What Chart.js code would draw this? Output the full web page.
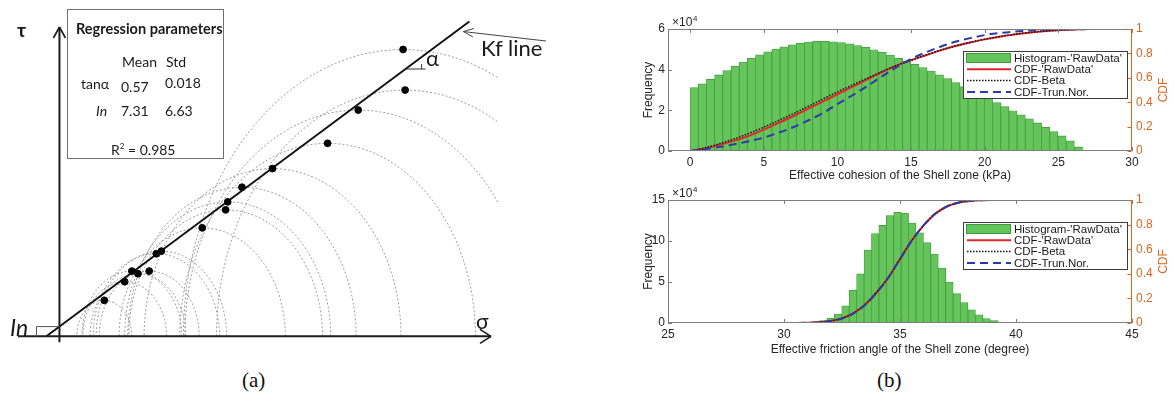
<!DOCTYPE html>
<html>
<head>
<meta charset="utf-8">
<script src="https://cdn.jsdelivr.net/npm/chart.js@4.4.1/dist/chart.umd.min.js"></script>
<style>
  body { margin: 0; width: 1174px; height: 397px; background: #fff; position: relative; overflow: hidden; }
  .box { position: absolute; }
  .lbl { position: absolute; white-space: nowrap; line-height: 1; color: #1a1a1a; font-family: Lato, "Open Sans", sans-serif; }
  #regBox { position: absolute; left: 67px; top: 9px; width: 155px; height: 148px; border: 1.5px solid #707070; background: #fff; }
  .cap { position: absolute; font-family: "Liberation Serif", "Times New Roman", serif; font-size: 21px; color: #111; }
</style>
</head>
<body>

<div class="box" style="left:0;top:0;"><canvas id="mohrChart" width="560" height="352"></canvas></div>
<div class="box" style="left:600px;top:0;"><canvas id="cohChart" width="574" height="190"></canvas></div>
<div class="box" style="left:600px;top:180px;"><canvas id="phiChart" width="574" height="182"></canvas></div>

<!-- regression box of panel (a) -->
<div id="regBox"></div>
<span class="lbl" style="left:76px;top:22px;font-size:14.5px;font-weight:bold;">Regression parameters</span>
<span class="lbl" style="left:122px;top:55px;font-size:14px;">Mean</span>
<span class="lbl" style="left:166px;top:55px;font-size:14px;">Std</span>
<span class="lbl" style="left:81px;top:77px;font-size:14px;">tanα</span>
<span class="lbl" style="left:121px;top:80px;font-size:14px;">0.57</span>
<span class="lbl" style="left:165px;top:76px;font-size:14px;">0.018</span>
<span class="lbl" style="left:96px;top:104px;font-size:14px;font-style:italic;">In</span>
<span class="lbl" style="left:121px;top:104px;font-size:14px;">7.31</span>
<span class="lbl" style="left:165px;top:104px;font-size:14px;">6.63</span>
<span class="lbl" style="left:111px;top:142px;font-size:14px;">R<sup style="font-size:8px;">2</sup> = 0.985</span>

<span class="lbl" style="left:17px;top:20px;font-size:19px;font-weight:bold;">τ</span>
<span class="lbl" style="left:476px;top:310px;font-size:21px;">σ</span>
<span class="lbl" style="left:10px;top:316px;font-size:23px;font-style:italic;">In</span>
<span class="lbl" style="left:426px;top:47px;font-size:22px;">α</span>
<span class="lbl" style="left:481px;top:37px;font-size:22px;">Kf line</span>

<span class="cap" style="left:242px;top:368px;">(a)</span>
<span class="cap" style="left:877px;top:368px;">(b)</span>

<script>
// ---------- panel (a): Mohr circles, values in kPa ----------
const circleCenter = [44, 64, 71, 77, 88, 95, 100, 140, 163, 165, 179, 209, 263, 293, 339, 337];
const circleRadius = [27, 41, 49, 47, 49, 62, 64, 81.5, 95, 101, 112, 126, 145, 170, 185, 215.5];
const tanAlpha = 0.57;
const lnMean = 7.31;
const kfSigma = [-12.8, 402];

// ---------- panel (b) top: effective cohesion ----------
const cohBinStart = 0;
const cohBinWidth = 0.555;
const cohFreq = [3.12, 3.30, 3.52, 3.74, 3.96, 4.17, 4.37, 4.56, 4.73, 4.88, 5.01, 5.12, 5.22, 5.30, 5.36, 5.40,
  5.40, 5.37, 5.33, 5.27, 5.19, 5.10, 4.98, 4.85, 4.72, 4.56, 4.42, 4.27, 4.10, 3.93, 3.75, 3.56,
  3.37, 3.17, 2.97, 2.77, 2.57, 2.38, 2.18, 1.98, 1.78, 1.58, 1.38, 1.17, 0.96, 0.74, 0.50, 0.20]; // x10^4
const cohCdfX = [0, 1, 2, 3, 4, 5, 6, 7, 8, 9, 10, 11, 12, 13, 14, 15, 16, 17, 18, 19, 20, 21, 22, 23, 24, 25, 26, 27, 28, 29, 30];
const cohCdfRaw = [0, 0.02, 0.05, 0.085, 0.125, 0.175, 0.23, 0.285, 0.345, 0.405, 0.465, 0.525, 0.585, 0.645, 0.7, 0.745,
  0.785, 0.825, 0.86, 0.89, 0.915, 0.937, 0.955, 0.97, 0.981, 0.989, 0.995, 0.999, 1, 1, 1];
const cohCdfBeta = [0, 0.025, 0.06, 0.1, 0.145, 0.195, 0.25, 0.305, 0.365, 0.425, 0.485, 0.54, 0.595, 0.65, 0.7, 0.745,
  0.787, 0.826, 0.86, 0.89, 0.916, 0.938, 0.956, 0.971, 0.982, 0.99, 0.996, 0.999, 1, 1, 1];
const cohCdfTrun = [0, 0.015, 0.033, 0.055, 0.08, 0.11, 0.15, 0.195, 0.25, 0.31, 0.385, 0.455, 0.53, 0.61, 0.685, 0.755,
  0.808, 0.855, 0.895, 0.925, 0.95, 0.967, 0.979, 0.987, 0.993, 0.996, 0.998, 0.999, 1, 1, 1];

// ---------- panel (b) bottom: effective friction angle ----------
const phiBinStart = 30.89;
const phiBinWidth = 0.32;
const phiFreq = [0.04, 0.12, 0.3, 0.6, 1.1, 2.1, 4.0, 6.0, 8.9, 10.9, 11.9, 13.1, 13.5, 13.4, 12.2, 11.0,
  9.8, 8.4, 6.7, 5.0, 3.6, 2.5, 1.6, 1.0, 0.55, 0.28, 0.12, 0.05]; // x10^4
const phiCdfX = [25, 26, 27, 28, 29, 30, 30.5, 31, 31.5, 32, 32.5, 33, 33.5, 34, 34.5, 35, 35.5, 36, 36.5, 37, 37.5,
  38, 38.5, 39, 40, 41, 42, 43, 44, 45];
const phiCdfRaw = [null, null, null, null, 0, 0, 0.0005, 0.002, 0.006, 0.016, 0.038, 0.08, 0.15, 0.25, 0.37, 0.52,
  0.67, 0.79, 0.885, 0.945, 0.977, 0.992, 0.998, 1, 1, 1, null, null, null, null];
const phiCdfBeta = [0, 0, 0, 0, 0, 0, 0.0005, 0.002, 0.006, 0.017, 0.039, 0.081, 0.152, 0.252, 0.372, 0.52,
  0.668, 0.789, 0.884, 0.944, 0.976, 0.991, 0.998, 1, 1, 1, 1, 1, 1, 1];
const phiCdfTrun = [0, 0, 0, 0, 0, 0, 0.0006, 0.002, 0.006, 0.016, 0.037, 0.079, 0.149, 0.249, 0.369, 0.518,
  0.668, 0.79, 0.886, 0.946, 0.978, 0.992, 0.998, 1, 1, 1, 1, 1, 1, 1];

const legendLabels = ["Histogram-'RawData'", "CDF-'RawData'", "CDF-Beta", "CDF-Trun.Nor."];

const ORANGE = '#d9661f';
const AXGRAY = '#7d7d7d';
const SANS = '"Liberation Sans", Arial, sans-serif';

// ================= panel (a) =================
function line(ctx, x1, y1, x2, y2) {
  ctx.beginPath(); ctx.moveTo(x1, y1); ctx.lineTo(x2, y2); ctx.stroke();
}

const mohrDecor = {
  id: 'mohrDecor',
  afterDatasetsDraw(chart) {
    const { ctx, scales: { x, y } } = chart;
    const x0 = x.getPixelForValue(0);
    const y0 = y.getPixelForValue(0);
    ctx.save();
    ctx.strokeStyle = '#1c1c1c';
    ctx.lineWidth = 2;
    // sigma axis + arrow
    line(ctx, 18, y0, 491, y0);
    ctx.lineWidth = 1.6;
    line(ctx, 480, y0 - 7, 491, y0); line(ctx, 480, y0 + 7, 491, y0);
    // tau axis + arrow
    ctx.lineWidth = 2;
    line(ctx, x0, y0 + 6, x0, 27);
    ctx.lineWidth = 1.6;
    line(ctx, x0 - 6, 38, x0, 27); line(ctx, x0 + 6, 38, x0, 27);
    // In bracket
    ctx.strokeStyle = '#555'; ctx.lineWidth = 1;
    const yIn = y.getPixelForValue(lnMean);
    line(ctx, x0 - 23, yIn, x0, yIn); line(ctx, x0 - 23, yIn, x0 - 23, y0);
    // alpha marker on the Kf line
    const tA = y.getValueForPixel(69);
    const pxA = x.getPixelForValue((tA - lnMean) / tanAlpha);
    ctx.strokeStyle = '#333';
    line(ctx, pxA, 69, pxA + 20, 69); line(ctx, pxA + 16, 64, pxA + 16, 69);
    // arrow pointing at the Kf line
    const hx = x.getPixelForValue(kfSigma[1]) - 6, hy = y.getPixelForValue(lnMean + tanAlpha * kfSigma[1]) + 10;
    const tx = 546, ty = 41;
    ctx.strokeStyle = '#444'; ctx.lineWidth = 1;
    line(ctx, tx, ty, hx, hy);
    const ang = Math.atan2(ty - hy, tx - hx);
    line(ctx, hx, hy, hx + 11 * Math.cos(ang - 0.4), hy + 11 * Math.sin(ang - 0.4));
    line(ctx, hx, hy, hx + 11 * Math.cos(ang + 0.4), hy + 11 * Math.sin(ang + 0.4));
    ctx.restore();
  }
};

// semicircles built from centre/radius
const circleSets = circleCenter.map((c, i) => {
  const r = circleRadius[i];
  const pts = [];
  for (let a = 0; a <= 180; a += 3) {
    const t = a * Math.PI / 180;
    pts.push({ x: c + r * Math.cos(t), y: r * Math.sin(t) });
  }
  return {
    data: pts, showLine: true, pointRadius: 0, borderColor: '#9c9c9c',
    borderWidth: 1, borderDash: [2, 2], tension: 0, order: 3
  };
});

new Chart(document.getElementById('mohrChart'), {
  type: 'scatter',
  data: {
    datasets: [
      ...circleSets,
      {
        data: kfSigma.map(s => ({ x: s, y: lnMean + tanAlpha * s })),
        showLine: true, pointRadius: 0, borderColor: '#111', borderWidth: 2, order: 2
      },
      {
        data: circleCenter.map((c, i) => ({ x: c, y: circleRadius[i] })),
        pointRadius: 3.4, backgroundColor: '#000', borderColor: '#000', order: 1
      }
    ]
  },
  options: {
    responsive: false, devicePixelRatio: 1, animation: false,
    layout: { padding: { left: 0, top: 0, right: 62, bottom: 0 } },
    plugins: { legend: { display: false }, tooltip: { enabled: false } },
    scales: {
      x: { type: 'linear', display: false, min: -53.4, max: 430.1 },
      y: { type: 'linear', display: false, min: -8.03, max: 248.9 }
    }
  },
  plugins: [mohrDecor]
});

// ================= panel (b) =================
const matlabAxes = {
  id: 'matlabAxes',
  afterDatasetsDraw(chart) {
    const { ctx, chartArea: a, scales } = chart;
    ctx.save();
    ctx.lineWidth = 1;
    // inward ticks
    ctx.strokeStyle = AXGRAY;
    scales.x.ticks.forEach(t => {
      const px = Math.round(scales.x.getPixelForValue(t.value)) + 0.5;
      line(ctx, px, a.bottom, px, a.bottom - 4);
      line(ctx, px, a.top, px, a.top + 4);
    });
    scales.y.ticks.forEach(t => {
      const py = Math.round(scales.y.getPixelForValue(t.value)) + 0.5;
      line(ctx, a.left, py, a.left + 4, py);
    });
    // box
    const L = Math.round(a.left) + 0.5, R = Math.round(a.right) - 0.5;
    const T = Math.round(a.top) + 0.5, B = Math.round(a.bottom) - 0.5;
    line(ctx, L, T, R, T); line(ctx, L, T, L, B); line(ctx, L, B, R, B);
    ctx.strokeStyle = ORANGE;
    line(ctx, R, T, R, B);
    scales.y1.ticks.forEach(t => {
      const py = Math.round(scales.y1.getPixelForValue(t.value)) + 0.5;
      line(ctx, R, py, R - 4, py);
    });
    // x10^4 exponent label
    ctx.fillStyle = '#262626';
    ctx.textBaseline = 'alphabetic';
    ctx.font = '12px ' + SANS;
    ctx.fillText('\u00d710', a.left + 4, a.top - 3);
    ctx.font = '8px ' + SANS;
    ctx.fillText('4', a.left + 25, a.top - 8);
    // CDF title on the right, read bottom to top
    ctx.save();
    ctx.translate(a.right + 32, (a.top + a.bottom) / 2);
    ctx.rotate(-Math.PI / 2);
    ctx.fillStyle = ORANGE;
    ctx.font = '12px ' + SANS;
    ctx.textAlign = 'center';
    ctx.textBaseline = 'middle';
    ctx.fillText('CDF', 0, 0);
    ctx.restore();
    // legend box
    const lw = 164, lh = 47;
    const lx = a.right - lw - 5, ly = a.top + 22;
    ctx.fillStyle = '#fff';
    ctx.fillRect(lx, ly, lw, lh);
    ctx.strokeStyle = '#3c3c3c';
    ctx.strokeRect(lx + 0.5, ly + 0.5, lw, lh);
    const ds = chart.data.datasets;
    ctx.font = '11.5px ' + SANS;
    ctx.textAlign = 'left';
    ctx.textBaseline = 'middle';
    ds.forEach((d, i) => {
      const cy = ly + 7 + i * 11.3;
      if (i === 0) {
        ctx.fillStyle = d.backgroundColor;
        ctx.fillRect(lx + 3, cy - 5, 45, 10);
        ctx.strokeStyle = d.borderColor;
        ctx.strokeRect(lx + 3.5, cy - 4.5, 44, 9);
      } else {
        ctx.strokeStyle = d.borderColor;
        ctx.lineWidth = d.borderWidth;
        ctx.setLineDash(d.borderDash || []);
        line(ctx, lx + 4, cy, lx + 48, cy);
        ctx.setLineDash([]);
        ctx.lineWidth = 1;
      }
      ctx.fillStyle = '#1a1a1a';
      ctx.fillText(d.label, lx + 51, cy + 0.5);
    });
    ctx.restore();
  }
};

function histChart(id, opt) {
  const centers = opt.freq.map((_, i) => opt.binStart + (i + 0.5) * opt.binWidth);
  const cdfPts = arr => opt.cdfX.map((x, i) => ({ x, y: arr[i] }));
  return new Chart(document.getElementById(id), {
    data: {
      datasets: [
        {
          type: 'bar', label: legendLabels[0],
          data: centers.map((c, i) => ({ x: c, y: opt.freq[i] })),
          backgroundColor: '#66c45c', borderColor: '#3f9c3a', borderWidth: 0.8,
          barPercentage: 1, categoryPercentage: 1, grouped: false, yAxisID: 'y', order: 5
        },
        {
          type: 'line', label: legendLabels[1], data: cdfPts(opt.cdfRaw), yAxisID: 'y1',
          borderColor: '#e3262a', borderWidth: 2, pointRadius: 0, cubicInterpolationMode: 'monotone', order: 3
        },
        {
          type: 'line', label: legendLabels[2], data: cdfPts(opt.cdfBeta), yAxisID: 'y1',
          borderColor: '#111', borderWidth: 1.5, borderDash: [1.5, 1.5], pointRadius: 0,
          cubicInterpolationMode: 'monotone', order: 2
        },
        {
          type: 'line', label: legendLabels[3], data: cdfPts(opt.cdfTrun), yAxisID: 'y1',
          borderColor: '#2a3aa8', borderWidth: 2, borderDash: [8, 5], pointRadius: 0,
          cubicInterpolationMode: 'monotone', order: 1
        }
      ]
    },
    options: {
      responsive: false, devicePixelRatio: 1, animation: false,
      layout: { padding: { left: 34, top: opt.padTop, right: 0, bottom: 0 } },
      plugins: { legend: { display: false }, tooltip: { enabled: false } },
      scales: {
        x: {
          type: 'linear', min: opt.xMin, max: opt.xMax, offset: false,
          grid: { display: false, drawTicks: false }, border: { display: false },
          ticks: { stepSize: 5, includeBounds: false, padding: 4, maxRotation: 0, color: '#262626', font: { family: SANS, size: 12 } },
          title: { display: true, text: opt.xTitle, color: '#262626', font: { family: SANS, size: 12 }, padding: { top: 0, bottom: opt.titlePad } },
          afterFit: s => { s.height = 39; }
        },
        y: {
          position: 'left', min: 0, max: opt.yMax,
          grid: { display: false, drawTicks: false }, border: { display: false },
          ticks: { stepSize: opt.yStep, padding: 3, color: '#262626', font: { family: SANS, size: 12 } },
          title: { display: true, text: 'Frequency', color: '#262626', font: { family: SANS, size: 12 }, padding: { top: 7, bottom: 0 } },
          afterFit: s => { s.width = 34; }
        },
        y1: {
          position: 'right', min: 0, max: 1,
          grid: { display: false, drawTicks: false }, border: { display: false },
          ticks: { stepSize: 0.2, padding: 4, color: ORANGE, font: { family: SANS, size: 12 },
            callback: v => String(Math.round(v * 10) / 10) },
          afterFit: s => { s.width = 42; }
        }
      }
    },
    plugins: [matlabAxes]
  });
}

histChart('cohChart', {
  freq: cohFreq, binStart: cohBinStart, binWidth: cohBinWidth,
  cdfX: cohCdfX, cdfRaw: cohCdfRaw, cdfBeta: cohCdfBeta, cdfTrun: cohCdfTrun,
  xMin: -1.5, xMax: 30, yMax: 6, yStep: 2, padTop: 29, titlePad: 7,
  xTitle: 'Effective cohesion of the Shell zone (kPa)'
});

histChart('phiChart', {
  freq: phiFreq, binStart: phiBinStart, binWidth: phiBinWidth,
  cdfX: phiCdfX, cdfRaw: phiCdfRaw, cdfBeta: phiCdfBeta, cdfTrun: phiCdfTrun,
  xMin: 25, xMax: 45, yMax: 15, yStep: 5, padTop: 20, titlePad: 5,
  xTitle: 'Effective friction angle of the Shell zone (degree)'
});
</script>
</body>
</html>
